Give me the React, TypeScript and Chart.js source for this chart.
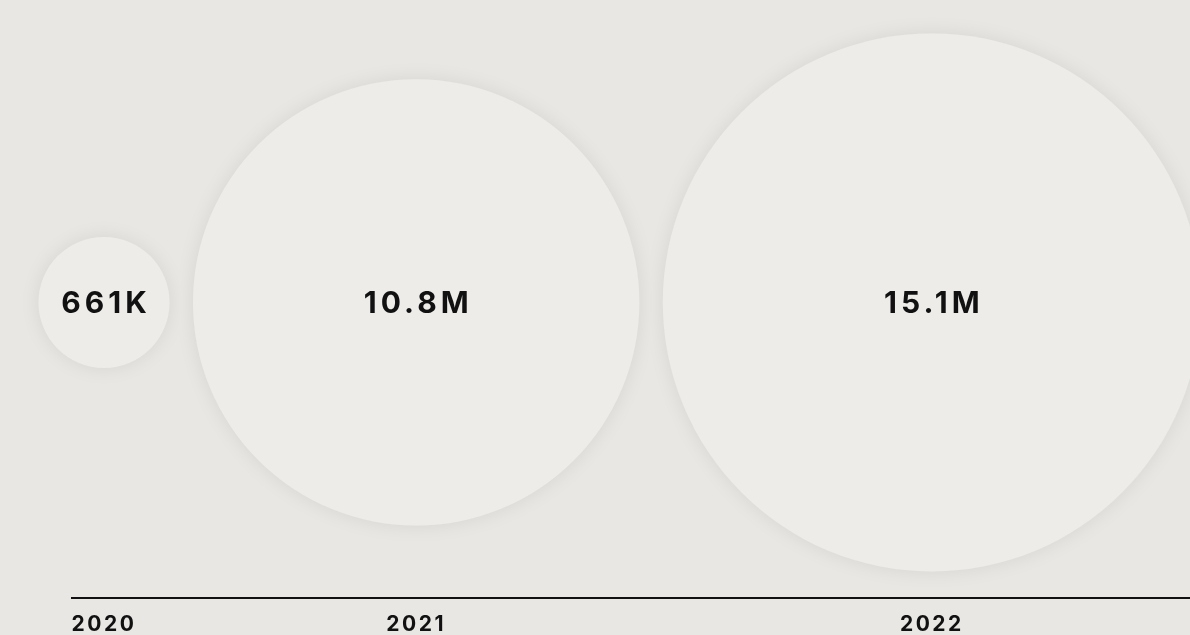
import React, { useEffect, useRef } from "react";
import { Chart, registerables } from "chart.js";

Chart.register(...registerables);

// ---- data ----
const years: string[] = ["2020", "2021", "2022"];
const values: number[] = [661000, 10800000, 15100000];

// ---- layout constants (layout units == pixels at this size) ----
const MIN_R = 65.5;
const MAX_R = 269;
const GAP = 23.5;
const POW = 0.65;
const X_MIN = 33.5;
const X_SPAN = 1118;

const BG = "#e8e7e3";
const BUBBLE = "#edece9";
const INK = "#111111";
const FONT = "Inter";

function radiusUnits(v: number): number {
  const vmin = Math.min(...values);
  const vmax = Math.max(...values);
  const a = Math.pow(vmin, POW);
  const b = Math.pow(vmax, POW);
  return MIN_R + ((Math.pow(v, POW) - a) / (b - a)) * (MAX_R - MIN_R);
}

function centers(): number[] {
  const out: number[] = [];
  values.forEach((v, i) => {
    const r = radiusUnits(v);
    if (i === 0) out.push(r);
    else out.push(out[i - 1] + radiusUnits(values[i - 1]) + GAP + r);
  });
  return out;
}

function fmt(v: number): string {
  if (v >= 1e6) return (v / 1e6).toFixed(1) + "M";
  return Math.round(v / 1e3) + "K";
}

export default function App() {
  const ref = useRef<HTMLCanvasElement | null>(null);

  useEffect(() => {
    document.body.style.margin = "0";
    document.body.style.background = BG;
    const canvas = ref.current;
    if (!canvas) return;
    const cx = centers();

    const shadowPlugin = {
      id: "bubbleShadow",
      beforeDatasetsDraw(chart: any) {
        const ctx = chart.ctx;
        ctx.save();
        ctx.shadowColor = "rgba(0,0,0,0.08)";
        ctx.shadowBlur = 20;
        ctx.shadowOffsetX = 0;
        ctx.shadowOffsetY = 0;
      },
      afterDatasetsDraw(chart: any) {
        chart.ctx.restore();
      },
    };

    const spacingPlugin = {
      id: "tickSpacing",
      beforeDraw(chart: any) {
        (chart.ctx as any).letterSpacing = "2.5px";
      },
    };

    const labelPlugin = {
      id: "valueLabels",
      afterDatasetsDraw(chart: any) {
        const ctx = chart.ctx;
        const meta = chart.getDatasetMeta(0);
        ctx.save();
        (ctx as any).letterSpacing = "4px";
        ctx.font = `700 30px ${FONT}`;
        ctx.fillStyle = INK;
        ctx.textAlign = "center";
        ctx.textBaseline = "middle";
        meta.data.forEach((el: any, i: number) => {
          ctx.fillText(fmt(values[i]), el.x + 2, el.y + 2);
        });
        ctx.restore();
      },
    };

    const chart = new Chart(canvas, {
      type: "bubble",
      data: {
        datasets: [
          {
            data: values.map((v, i) => ({ x: cx[i], y: 0, r: radiusUnits(v) })),
            backgroundColor: BUBBLE,
            hoverBackgroundColor: BUBBLE,
            borderWidth: 0,
            hoverBorderWidth: 0,
            clip: false as any,
          } as any,
        ],
      },
      options: {
        animation: false,
        responsive: false,
        events: [],
        layout: { autoPadding: false, padding: { left: 72, right: 0, top: 7, bottom: -16 } },
        plugins: {
          legend: { display: false },
          tooltip: { enabled: false },
        },
        scales: {
          x: {
            type: "linear",
            min: X_MIN,
            max: X_MIN + X_SPAN,
            grid: { display: false, drawTicks: false },
            border: { display: true, color: INK, width: 2 },
            afterBuildTicks: (scale: any) => {
              scale.ticks = cx.map((v) => ({ value: v }));
            },
            ticks: {
              autoSkip: false,
              maxRotation: 0,
              padding: 14,
              color: INK,
              font: { family: FONT, size: 21, weight: "bold" },
              callback: (_v: any, i: number) => years[i],
            },
          },
          y: {
            display: false,
            min: -1,
            max: 1,
          },
        },
      },
      plugins: [spacingPlugin, shadowPlugin, labelPlugin],
    });

    return () => chart.destroy();
  }, []);

  return (
    <div style={{ width: 1190, height: 635, background: BG, overflow: "hidden" }}>
      <canvas ref={ref} width={1190} height={635} style={{ display: "block" }} />
    </div>
  );
}
